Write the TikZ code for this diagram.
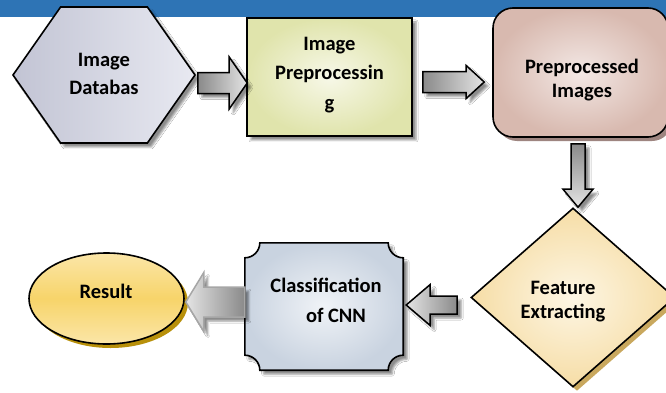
\documentclass[tikz,border=0pt]{standalone}
\usepackage{fontspec}
\setmainfont{Carlito}
\usetikzlibrary{shapes.geometric,shapes.symbols,calc,shadows,shadows.blur}
\definecolor{bandblue}{HTML}{2E74B5}
\definecolor{dbA}{HTML}{C2C4D4}
\definecolor{dbB}{HTML}{E8E9F1}
\definecolor{preA}{HTML}{F7F8E8}
\definecolor{preB}{HTML}{E0E4AC}
\definecolor{ppiA}{HTML}{F3E8E5}
\definecolor{ppiB}{HTML}{D8B9AF}
\definecolor{feA}{HTML}{FDF6E4}
\definecolor{feB}{HTML}{F6DDA6}
\definecolor{clsA}{HTML}{F0F3F7}
\definecolor{clsB}{HTML}{C9D3E0}
\definecolor{resA}{HTML}{FBE6A8}
\definecolor{resB}{HTML}{F7D46A}
\definecolor{resS}{HTML}{B8900A}
\definecolor{feS}{HTML}{C9A85E}
\definecolor{ppiS}{HTML}{9E8580}
\definecolor{arrD}{HTML}{8A8A8A}
\definecolor{arrL}{HTML}{E4E4E4}
\tikzset{
  shp/.style={draw=black,line width=1.6pt},
  shd/.style={blur shadow={shadow xshift=4pt,shadow yshift=-4pt,shadow blur radius=2pt,shadow opacity=45}},
  shdc/.style={drop shadow={shadow xshift=4pt,shadow yshift=-4pt,fill=#1,opacity=1}},
  lbl/.style={align=center,text=black},
  barrow/.style={draw=black,line width=1.5pt,shd},
}
% horizontal block arrow: opts, tail, tip, shaft half, head half, head length (signed)
\newcommand\hblockarrow[6]{%
  \path[#1] let \p1=(#2), \p2=(#3) in
    (\x1,\y2+#4pt) -- (\x2-#6pt,\y2+#4pt) -- (\x2-#6pt,\y2+#5pt) -- (\x2,\y2)
    -- (\x2-#6pt,\y2-#5pt) -- (\x2-#6pt,\y2-#4pt) -- (\x1,\y2-#4pt) -- cycle;}
% vertical (downward) block arrow
\newcommand\vblockarrow[6]{%
  \path[#1] let \p1=(#2), \p2=(#3) in
    (\x2-#4pt,\y1) -- (\x2-#4pt,\y2+#6pt) -- (\x2-#5pt,\y2+#6pt) -- (\x2,\y2)
    -- (\x2+#5pt,\y2+#6pt) -- (\x2+#4pt,\y2+#6pt) -- (\x2+#4pt,\y1) -- cycle;}
\begin{document}
\begin{tikzpicture}[x=1pt,y=1pt]
\useasboundingbox (0,0) rectangle (666,392);
\clip (0,0) rectangle (666,392);
\fill[white] (0,0) rectangle (666,392);
\fill[bandblue] (0,375) rectangle (666,392);

% shapes
\node[shp,shd,signal,signal to=east and west,signal pointer angle=110,
      minimum width=182,minimum height=136,inner sep=0,
      shading angle=60,left color=dbA,right color=dbB] (db) at (104,317) {};
\node[shp,shd,rectangle,minimum width=165,minimum height=118,inner sep=0,
      inner color=preA,outer color=preB] (pre) at (329.5,315) {};
\node[shp,shdc=ppiS,rectangle,rounded corners=20pt,minimum width=175,minimum height=129,inner sep=0,
      inner color=ppiA,outer color=ppiB] (ppi) at (580.5,319.5) {};
\node[shp,shdc=feS,diamond,minimum width=204,minimum height=179,inner sep=0,
      inner color=feA,outer color=feB] (fe) at (573,94.5) {};
\node[rectangle,minimum width=158,minimum height=127,inner sep=0] (cls) at (324,85.5) {};
\path[shp,shd,inner color=clsA,outer color=clsB]
  let \p1=(cls.south west), \p2=(cls.north east) in
  (\x1+15pt,\y1) -- (\x2-15pt,\y1) arc[start angle=180,end angle=90,radius=15pt]
  -- (\x2,\y2-15pt) arc[start angle=270,end angle=180,radius=15pt]
  -- (\x1+15pt,\y2) arc[start angle=0,end angle=-90,radius=15pt]
  -- (\x1,\y1+15pt) arc[start angle=90,end angle=0,radius=15pt] -- cycle;
\node[shp,shdc=resS,ellipse,minimum width=155,minimum height=91,inner sep=0,
      top color=resA,bottom color=resA,middle color=resB] (res) at (106.5,93.5) {};

% texts
\node[lbl,font=\fontsize{20.5}{28}\selectfont\bfseries] (tdb) at (104,318) {Image\\Databas};
\node[lbl,font=\fontsize{20.5}{29.5}\selectfont\bfseries] (tpre) at (329.5,317) {Image\\Preprocessin\\g};
\node[lbl,font=\fontsize{20.5}{24}\selectfont\bfseries] (tppi) at (582,312) {Preprocessed\\Images};
\node[lbl,font=\fontsize{20.5}{23.5}\selectfont\bfseries] (tfe) at (563,90.5) {Feature\\Extracting};
\node[lbl,font=\fontsize{20.5}{30}\selectfont\bfseries] (tcls) at (326,92) {Classification\\\hspace*{20pt}of CNN};
\node[lbl,anchor=base,font=\fontsize{20.5}{24}\selectfont\bfseries] (tres) at (106,94) {Result};

% block arrows
\hblockarrow{barrow,left color=arrD,right color=arrL}{$(db.east)+(2,-8)$}{$(pre.west)+(1,-6)$}{10.5}{26}{18}
\hblockarrow{barrow,left color=arrD,right color=arrL}{$(pre.east)+(10,-5)$}{$(ppi.west)+(-8,-9.5)$}{10.5}{16.5}{18}
\vblockarrow{barrow,top color=arrD,bottom color=arrL}{$(ppi.south)+(-2.5,-6)$}{$(fe.north)+(5,0)$}{7}{15}{18}
\hblockarrow{barrow,left color=arrL,right color=arrD}{$(fe.west)+(-13,-7.5)$}{$(cls.east)+(3,1.5)$}{9}{20.5}{-24}
\hblockarrow{barrow,draw=gray!70,left color=arrL,right color=arrD}{$(cls.west)+(0,4.5)$}{$(res.east)+(1,-3.5)$}{15}{29.5}{-18}
\end{tikzpicture}
\end{document}
